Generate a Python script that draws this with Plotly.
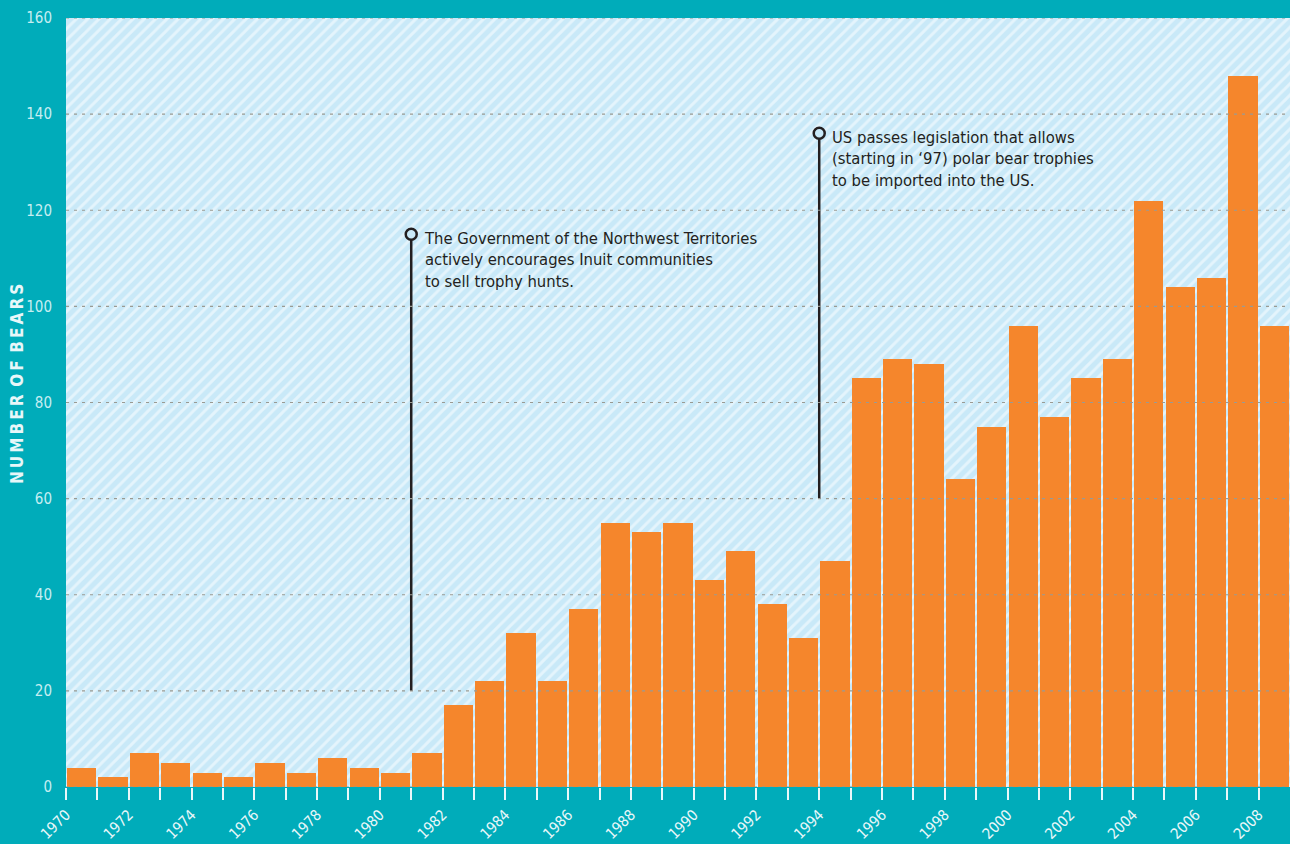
import plotly.graph_objects as go

# ---- data ----
years = list(range(1970, 2009))
bears = [4, 2, 7, 5, 3, 2, 5, 3, 6, 4, 3, 7,
         17, 22, 32, 22, 37, 55, 53, 55, 43, 49, 38, 31, 47,
         85, 89, 88, 64, 75, 96, 77, 85, 89, 122, 104, 106, 148, 96]
tick_years = list(range(1970, 2009))
tick_labels = [str(y) if y % 2 == 0 else "" for y in tick_years]
y_ticks = [0, 20, 40, 60, 80, 100, 120, 140, 160]

event_years = [1981, 1994]
event_base = [20, 60]
event_top = [115, 136]
event_texts = [
    "The Government of the Northwest Territories<br>actively encourages Inuit communities<br>to sell trophy hunts.",
    "US passes legislation that allows<br>(starting in \u201897) polar bear trophies<br>to be imported into the US.",
]

x_min, x_max = 1970, 2009
y_min, y_max = 0, 160

TEAL = "#00ACBA"
ORANGE = "#F5862C"
LIGHT = "#C9E9F8"
FONT = "Liberation Sans Narrow, Arial Narrow, DejaVu Sans Condensed, sans-serif"

fig = go.Figure()

# hatched plot background
fig.add_trace(go.Bar(
    x=[(x_min + x_max) / 2], y=[y_max], width=[x_max - x_min],
    marker=dict(color=LIGHT, line=dict(width=0),
                pattern=dict(shape="/", bgcolor=LIGHT, fgcolor="white",
                             size=8, solidity=0.36)),
    hoverinfo="skip", showlegend=False,
))

# data bars (each bar spans the year interval)
fig.add_trace(go.Bar(
    x=[y + 0.5 for y in years], y=bears, width=0.93,
    marker=dict(color=ORANGE, line=dict(width=0)),
    showlegend=False, name="Bears",
))

# pins
for yr, b, t in zip(event_years, event_base, event_top):
    fig.add_trace(go.Scatter(
        x=[yr, yr], y=[b, t], mode="lines",
        line=dict(color="#231F20", width=2.5),
        hoverinfo="skip", showlegend=False,
    ))
fig.add_trace(go.Scatter(
    x=event_years, y=event_top, mode="markers",
    marker=dict(size=11, color=LIGHT, line=dict(color="#231F20", width=2.5)),
    hoverinfo="skip", showlegend=False,
))

for yr, t, txt in zip(event_years, event_top, event_texts):
    fig.add_annotation(
        x=yr + 0.35, y=t + 1.6, xref="x", yref="y",
        text=txt, showarrow=False, xanchor="left", yanchor="top", align="left",
        font=dict(family=FONT, size=16.5, color="#231F20"),
    )

# y-axis title
fig.add_annotation(
    x=-0.040, y=0.524, xref="paper", yref="paper", textangle=-90,
    text="N\u2009U\u2009M\u2009B\u2009E\u2009R\u2002O\u2009F\u2002B\u2009E\u2009A\u2009R\u2009S",
    showarrow=False, xanchor="center", yanchor="middle",
    font=dict(family=FONT, size=17, color="#E8F7F9", weight="bold"),
)

# dashed gridlines above bars
for v in y_ticks:
    fig.add_shape(type="line", xref="paper", yref="y", x0=0, x1=1, y0=v, y1=v,
                  line=dict(color="#9A9A92", width=1.2, dash="3px,5px"), layer="above")

fig.update_layout(
    width=1290, height=844,
    margin=dict(l=66, r=0, t=18, b=57, autoexpand=False),
    paper_bgcolor=TEAL, plot_bgcolor=LIGHT,
    barmode="overlay", bargap=0,
    font=dict(family=FONT),
)
fig.update_xaxes(
    range=[x_min, x_max], tickvals=tick_years, ticktext=tick_labels,
    tickangle=-45, ticks="outside", ticklen=12, tickcolor="#E8F7F9", tickwidth=1.5,
    tickfont=dict(family=FONT, size=15, color="#E8F7F9"),
    showgrid=False, zeroline=False, showline=False, automargin=False,
)
fig.update_yaxes(
    range=[y_min, y_max], tickvals=y_ticks,
    ticks="outside", ticklen=10, tickcolor="rgba(0,0,0,0)",
    tickfont=dict(family=FONT, size=15, color="#C6EEF2"),
    showgrid=False, zeroline=False, showline=False, automargin=False,
)

fig.write_html(
    "out.html",
    config={"displayModeBar": False},
    post_script="document.body.style.margin='0';document.body.style.padding='0';"
                "document.body.style.background='" + TEAL + "';"
                "document.documentElement.style.overflow='hidden';",
)
